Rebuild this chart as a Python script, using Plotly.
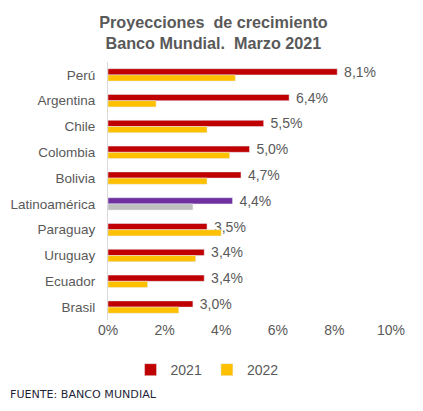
import plotly.graph_objects as go

# datos (Banco Mundial, marzo 2021)
paises = ["Perú", "Argentina", "Chile", "Colombia", "Bolivia", "Latinoamérica",
          "Paraguay", "Uruguay", "Ecuador", "Brasil"]
crec_2021 = [8.1, 6.4, 5.5, 5.0, 4.7, 4.4, 3.5, 3.4, 3.4, 3.0]
crec_2022 = [4.5, 1.7, 3.5, 4.3, 3.5, 3.0, 4.0, 3.1, 1.4, 2.5]
x_ticks = [0, 2, 4, 6, 8, 10]
x_tick_labels = ["0%", "2%", "4%", "6%", "8%", "10%"]

rojo = "#C00000"
amarillo = "#FFC000"
gris_txt = "#595959"

# Latinoamerica va con otros colores
col_2021 = ["#7030A0" if p == "Latinoamérica" else rojo for p in paises]
col_2022 = ["#BFBFBF" if p == "Latinoamérica" else amarillo for p in paises]
# un espacio duro delante para separar la etiqueta de la barra
etiquetas = ["\u00a0" + f"{v:.1f}%".replace(".", ",") for v in crec_2021]

fig = go.Figure()
fig.add_trace(go.Bar(
    y=paises, x=crec_2021, orientation="h", name="2021",
    marker=dict(color=col_2021),
    text=etiquetas, textposition="outside", constraintext="none",
    textfont=dict(size=14, color=gris_txt), cliponaxis=False,
))
fig.add_trace(go.Bar(
    y=paises, x=crec_2022, orientation="h", name="2022",
    marker=dict(color=col_2022),
))

fig.update_layout(
    width=415, height=403,
    margin=dict(l=100, r=32, t=54, b=91),
    barmode="group", bargap=0.52, bargroupgap=0,
    paper_bgcolor="white", plot_bgcolor="white",
    font=dict(family="Liberation Sans, Arial, sans-serif", size=14, color=gris_txt),
    title=dict(
        text="<b>Proyecciones  de crecimiento<br>Banco Mundial.  Marzo 2021</b>",
        x=0.495, xanchor="center", y=0.95, yanchor="middle",
        font=dict(size=16.2, color=gris_txt),
    ),
    showlegend=True,
    legend=dict(orientation="h", x=0.35, xanchor="center", y=-0.194, yanchor="middle",
                font=dict(size=14, color=gris_txt), itemwidth=30, traceorder="normal"),
    annotations=[dict(
        text="FUENTE: BANCO MUNDIAL", xref="paper", yref="paper",
        x=-0.352, y=-0.29, xanchor="left", yanchor="middle", showarrow=False,
        font=dict(family="DejaVu Sans, sans-serif", size=11.1, color="#1F1F3A"),
    )],
)
fig.update_xaxes(range=[0, 10], tickvals=x_ticks, ticktext=x_tick_labels,
                 showgrid=False, zeroline=False, showline=False, ticks="",
                 automargin=False, tickfont=dict(size=14, color=gris_txt))
fig.update_yaxes(range=[9.5, -0.5], showgrid=False, showline=True,
                 linecolor="#D9D9D9", linewidth=1, ticks="", ticklabelstandoff=9,
                 automargin=False, tickfont=dict(size=13.5, color=gris_txt))

fig.write_html("out.html")
